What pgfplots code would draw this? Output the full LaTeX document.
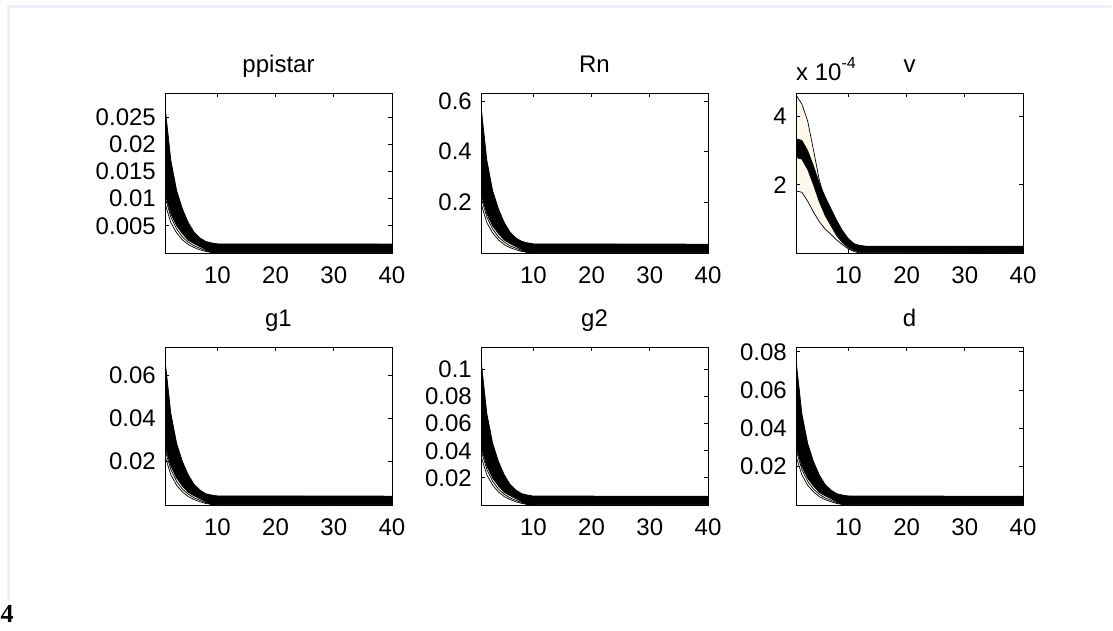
\documentclass[border=0pt]{standalone}
\usepackage{fontspec}
\setmainfont{Liberation Sans}
\newfontfamily\serifbold{Liberation Serif}
\usepackage{pgfplots}
\pgfplotsset{compat=1.18}
\usepackage{pgfplotstable}
\definecolor{band}{RGB}{255,248,236}
\definecolor{frameline}{RGB}{236,241,250}

% columns: t = horizon, bh/bl = top/bottom of dense draw band, l2/l = lower thin lines
\pgfplotstableread{
t  bh      bl      l2      l
1  0.02705 0.01088 0.01029 0.00911
2  0.01705 0.00720 0.00662 0.00559
3  0.01147 0.00500 0.00441 0.00368
4  0.00809 0.00353 0.00294 0.00241
5  0.00559 0.00235 0.00200 0.00156
6  0.00382 0.00171 0.00132 0.00100
7  0.00276 0.00118 0.00088 0.00059
8  0.00212 0.00059 0.00044 0.00029
9  0.00185 0       0.00015 0.00012
10 0.00168 0       0       0
40 0.00165 0       0       0
}\tabppistar

\pgfplotstableread{
t  bh    bl    l2    l
1  0.581 0.234 0.221 0.196
2  0.367 0.155 0.142 0.120
3  0.246 0.107 0.095 0.079
4  0.174 0.076 0.063 0.052
5  0.120 0.051 0.043 0.033
6  0.082 0.037 0.028 0.021
7  0.059 0.025 0.019 0.013
8  0.046 0.013 0.009 0.006
9  0.040 0     0.003 0.003
10 0.036 0     0     0
40 0.035 0     0     0
}\tabRn

\pgfplotstableread{
t  u    bh   bl   l
1  4.63 3.35 2.80 1.82
2  4.37 3.30 2.75 1.78
3  3.87 3.00 2.45 1.52
4  3.02 2.55 2.00 1.20
5  2.14 2.05 1.50 0.92
6  1.52 1.65 1.10 0.70
7  1.14 1.30 0.80 0.55
8  0.76 0.95 0.50 0.38
9  0.50 0.65 0.30 0.24
10 0.32 0.42 0.15 0.12
11 0.20 0.27 0.07 0.04
12 0.15 0.22 0.02 0
13 0.09 0.20 0    0
14 0.05 0.20 0    0
40 0.00 0.20 0    0
}\tabv

\pgfplotstableread{
t  bh     bl     l2     l
1  0.0671 0.0270 0.0255 0.0226
2  0.0423 0.0179 0.0164 0.0139
3  0.0284 0.0124 0.0109 0.0091
4  0.0200 0.0087 0.0073 0.0060
5  0.0139 0.0058 0.0050 0.0039
6  0.0095 0.0042 0.0033 0.0025
7  0.0069 0.0029 0.0022 0.0015
8  0.0052 0.0015 0.0011 0.0007
9  0.0046 0      0.0004 0.0003
10 0.0042 0      0      0
40 0.0041 0      0      0
}\tabgone

\pgfplotstableread{
t  bh     bl     l2     l
1  0.1073 0.0431 0.0408 0.0361
2  0.0676 0.0286 0.0262 0.0222
3  0.0455 0.0198 0.0175 0.0146
4  0.0321 0.0140 0.0117 0.0096
5  0.0222 0.0093 0.0079 0.0062
6  0.0152 0.0068 0.0052 0.0040
7  0.0110 0.0047 0.0035 0.0023
8  0.0084 0.0023 0.0017 0.0012
9  0.0073 0      0.0006 0.0005
10 0.0066 0      0      0
40 0.0065 0      0      0
}\tabgtwo

\pgfplotstableread{
t  bh     bl     l2     l
1  0.0759 0.0305 0.0289 0.0256
2  0.0479 0.0202 0.0186 0.0157
3  0.0322 0.0140 0.0124 0.0103
4  0.0227 0.0099 0.0083 0.0068
5  0.0157 0.0066 0.0056 0.0044
6  0.0107 0.0048 0.0037 0.0028
7  0.0078 0.0033 0.0025 0.0017
8  0.0059 0.0017 0.0012 0.0008
9  0.0052 0      0.0004 0.0003
10 0.0047 0      0      0
40 0.0046 0      0      0
}\tabd

\pgfplotsset{
  irf/.style={
    scale only axis, width=227pt, height=160pt,
    xmin=1, xmax=40, ymin=0,
    xtick={10,20,30,40},
    scaled y ticks=false, scaled x ticks=false,
    tick align=inside, tick pos=both, major tick length=4pt,
    axis line style={line width=0.9pt},
    every tick/.append style={black, line width=0.8pt},
    font=\fontsize{24}{28}\selectfont,
    tick label style={font=\fontsize{24}{28}\selectfont},
    /pgf/number format/assume math mode=true,
    title style={at={(0.5,1)}, anchor=base, yshift=14pt, inner sep=0pt,
                 font=\fontsize{24}{28}\selectfont},
    yticklabel style={inner sep=0pt, xshift=-9pt},
    xticklabel style={inner sep=0pt, yshift=-14pt},
    clip mode=individual,
    axis on top, no markers,
  },
}

% #1 table: area under top in black, under band bottom in cream, under lower line in white
\newcommand{\irfbands}[1]{%
  \addplot[draw=none, fill=black] table[x=t,y=bh]{#1} \closedcycle;
  \addplot[draw=none, fill=band] table[x=t,y=bl]{#1} \closedcycle;
  \addplot[draw=none, fill=white] table[x=t,y=l]{#1} \closedcycle;
  \addplot[black, line width=0.7pt] table[x=t,y=bh]{#1};
  \addplot[black, line width=0.7pt] table[x=t,y=bl]{#1};
  \addplot[black, line width=0.7pt] table[x=t,y=l2]{#1};
  \addplot[black, line width=0.7pt] table[x=t,y=l]{#1};
}

\begin{document}
\begin{tikzpicture}
\useasboundingbox (0pt,0pt) rectangle (1113pt,631pt);
\fill[white] (0pt,0pt) rectangle (1113pt,631pt);
\draw[frameline, line width=3pt] (8pt,30pt) -- (8pt,624pt) -- (1112pt,624pt);
\node[anchor=base west, font=\serifbold\bfseries\fontsize{26}{26}\selectfont, inner sep=0pt]
  at (0.5pt,8pt) {4};

% row 1
\begin{axis}[irf, at={(165pt,378pt)}, anchor=south west, ymax=0.0294,
  ytick={0.005,0.01,0.015,0.02,0.025}, yticklabels={0.005,0.01,0.015,0.02,0.025},
  title={ppistar}]
\irfbands{\tabppistar}
\end{axis}

\begin{axis}[irf, at={(481pt,378pt)}, anchor=south west, ymax=0.632,
  ytick={0.2,0.4,0.6}, yticklabels={0.2,0.4,0.6},
  title={Rn}]
\irfbands{\tabRn}
\end{axis}

\begin{axis}[irf, at={(796pt,378pt)}, anchor=south west, ymax=4.69,
  ytick={2,4}, yticklabels={2,4},
  title={v}]
\addplot[draw=none, fill=band] table[x=t,y=u]{\tabv} \closedcycle;
\addplot[draw=none, fill=black] table[x=t,y=bh]{\tabv} \closedcycle;
\addplot[draw=none, fill=band] table[x=t,y=bl]{\tabv} \closedcycle;
\addplot[draw=none, fill=white] table[x=t,y=l]{\tabv} \closedcycle;
\addplot[black, line width=0.7pt] table[x=t,y=u]{\tabv};
\addplot[black, line width=0.7pt] table[x=t,y=bh]{\tabv};
\addplot[black, line width=0.7pt] table[x=t,y=bl]{\tabv};
\addplot[black, line width=0.7pt] table[x=t,y=l]{\tabv};
\node[anchor=base west, inner sep=0pt, yshift=12pt, font=\fontsize{24}{28}\selectfont]
  at (rel axis cs:0,1)
  {x 10\raisebox{0.5em}{\fontsize{16}{16}\selectfont -4}};
\end{axis}

% row 2
\begin{axis}[irf, at={(165pt,126pt)}, anchor=south west, height=158pt, ymax=0.0729,
  ytick={0.02,0.04,0.06}, yticklabels={0.02,0.04,0.06},
  title={g1}]
\irfbands{\tabgone}
\end{axis}

\begin{axis}[irf, at={(481pt,126pt)}, anchor=south west, height=158pt, ymax=0.1166,
  ytick={0.02,0.04,0.06,0.08,0.1}, yticklabels={0.02,0.04,0.06,0.08,0.1},
  title={g2}]
\irfbands{\tabgtwo}
\end{axis}

\begin{axis}[irf, at={(796pt,126pt)}, anchor=south west, height=158pt, ymax=0.0825,
  ytick={0.02,0.04,0.06,0.08}, yticklabels={0.02,0.04,0.06,0.08},
  title={d}]
\irfbands{\tabd}
\end{axis}
\end{tikzpicture}
\end{document}
